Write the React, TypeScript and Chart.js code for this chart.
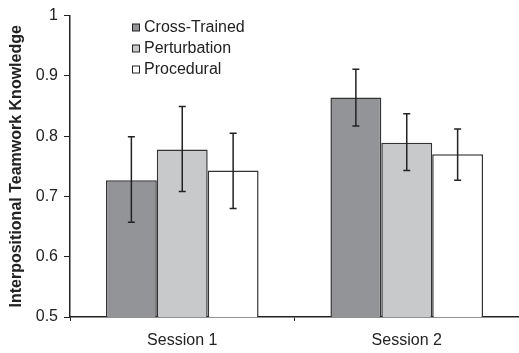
import React, { useEffect, useRef } from "react";
import { Chart, registerables } from "chart.js";

Chart.register(...registerables);

const categories = ["Session 1", "Session 2"];
const seriesNames = ["Cross-Trained", "Perturbation", "Procedural"];
const crossTrained = [0.727, 0.864];
const perturbation = [0.778, 0.789];
const procedural = [0.743, 0.77];
const crossTrainedLow = [0.657, 0.817];
const crossTrainedHigh = [0.799, 0.911];
const perturbationLow = [0.708, 0.743];
const perturbationHigh = [0.849, 0.837];
const proceduralLow = [0.68, 0.727];
const proceduralHigh = [0.805, 0.812];
const yTicks = [0.5, 0.6, 0.7, 0.8, 0.9, 1];

const FONT = "'Liberation Sans', Arial, Helvetica, sans-serif";
const INK = "#222222";
const fills = ["#939497", "#c8c9cb", "#ffffff"];

const errorBarPlugin = {
  id: "errorBars",
  afterDatasetsDraw(chart: any) {
    const ctx = chart.ctx;
    const yScale = chart.scales.y;
    chart.data.datasets.forEach((ds: any, di: number) => {
      const meta = chart.getDatasetMeta(di);
      meta.data.forEach((bar: any, i: number) => {
        const lo = ds.errLow[i];
        const hi = ds.errHigh[i];
        const x = bar.x;
        const yl = yScale.getPixelForValue(lo);
        const yh = yScale.getPixelForValue(hi);
        ctx.save();
        ctx.strokeStyle = INK;
        ctx.lineWidth = 1.5;
        ctx.beginPath();
        ctx.moveTo(x, yh);
        ctx.lineTo(x, yl);
        ctx.moveTo(x - 3.5, yh);
        ctx.lineTo(x + 3.5, yh);
        ctx.moveTo(x - 3.5, yl);
        ctx.lineTo(x + 3.5, yl);
        ctx.stroke();
        ctx.restore();
      });
    });
  },
};

const legendPlugin = {
  id: "insideLegend",
  afterDraw(chart: any) {
    const ctx = chart.ctx;
    ctx.save();
    chart.data.datasets.forEach((ds: any, i: number) => {
      const cy = 27.5 + i * 21;
      const bx = 132.5;
      ctx.fillStyle = ds.backgroundColor;
      ctx.fillRect(bx, cy - 3.5, 7, 7);
      ctx.strokeStyle = INK;
      ctx.lineWidth = 1;
      ctx.strokeRect(bx, cy - 3.5, 7, 7);
      ctx.fillStyle = INK;
      ctx.font = `16px ${FONT}`;
      ctx.textAlign = "left";
      ctx.textBaseline = "middle";
      ctx.fillText(ds.label, 144, cy);
    });
    ctx.restore();
  },
};

export default function App() {
  const ref = useRef<HTMLCanvasElement | null>(null);
  useEffect(() => {
    if (!ref.current) return;
    const values = [crossTrained, perturbation, procedural];
    const lows = [crossTrainedLow, perturbationLow, proceduralLow];
    const highs = [crossTrainedHigh, perturbationHigh, proceduralHigh];
    const chart = new Chart(ref.current, {
      type: "bar",
      data: {
        labels: categories,
        datasets: seriesNames.map((name, i) => ({
          label: name,
          data: values[i],
          errLow: lows[i],
          errHigh: highs[i],
          backgroundColor: fills[i],
          borderColor: "#333333",
          borderWidth: 1.5,
          borderSkipped: false,
          categoryPercentage: 0.68,
          barPercentage: 1,
        })) as any,
      },
      options: {
        animation: false,
        responsive: false,
        layout: { padding: { top: 14, right: 0, left: 0, bottom: 0 } },
        plugins: { legend: { display: false }, tooltip: { enabled: false } },
        scales: {
          x: {
            grid: {
              drawOnChartArea: false,
              drawTicks: true,
              tickLength: 4,
              color: INK,
              offset: true,
            },
            border: { color: INK, width: 1.5 },
            ticks: {
              color: INK,
              font: { family: FONT, size: 16 },
              padding: 10,
            },
            afterFit(scale: any) {
              scale.height = 36;
            },
          },
          y: {
            min: 0.5,
            max: 1,
            afterBuildTicks(scale: any) {
              scale.ticks = yTicks.map((v) => ({ value: v }));
            },
            grid: {
              drawOnChartArea: false,
              drawTicks: true,
              tickLength: 6,
              color: INK,
            },
            border: { color: INK, width: 1.5 },
            ticks: {
              color: INK,
              font: { family: FONT, size: 16 },
              padding: 6,
              callback: (v: any) => String(Math.round(Number(v) * 10) / 10),
            },
            title: {
              display: true,
              text: "Interpositional Teamwork Knowledge",
              color: INK,
              font: { family: FONT, size: 16, weight: "bold" },
              padding: { top: 7, bottom: 0 },
            },
            afterFit(scale: any) {
              scale.width = 70;
            },
          },
        },
      },
      plugins: [errorBarPlugin, legendPlugin],
    } as any);
    return () => chart.destroy();
  }, []);
  return (
    <div style={{ position: "absolute", left: 0, top: 0, width: 519, height: 353, background: "#fff" }}>
      <canvas ref={ref} width={519} height={353} style={{ display: "block", width: 519, height: 353 }} />
    </div>
  );
}
